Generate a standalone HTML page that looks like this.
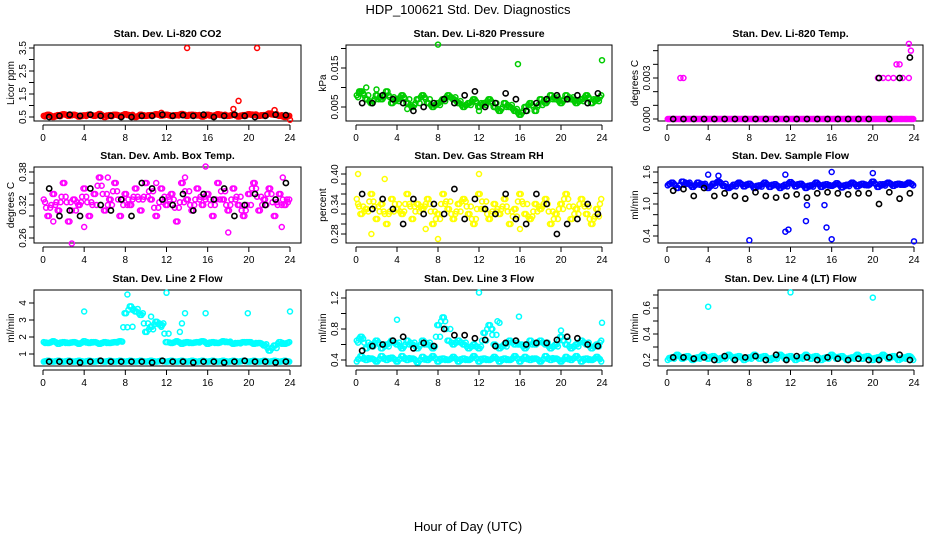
<!DOCTYPE html>
<html><head><meta charset="utf-8"><style>
body{margin:0;background:#fff;}
svg{display:block;font-family:"Liberation Sans",sans-serif;}
</style></head><body>
<svg id="c" width="936" height="540" xmlns="http://www.w3.org/2000/svg">
<text x="468" y="14" font-size="13" text-anchor="middle">HDP_100621  Std. Dev. Diagnostics</text>
<text x="468" y="531" font-size="13" text-anchor="middle">Hour of Day (UTC)</text>
</svg>
<script>
const hourTicks=[0,4,8,12,16,20,24];
// CO2
const co2Main=[0.55,0.6,0.5,0.58,0.62,0.55,0.6,0.52,0.57,0.6,0.55,0.63,0.5,0.58,0.6,0.55,0.62,0.57,0.5,0.6,0.55,0.58,0.62,0.56,0.6,0.55,0.58,0.63,0.55,0.6,0.57,0.52,0.6,0.55,0.62,0.58,0.55,0.6,0.52,0.58,0.62,0.6,0.55,0.58,0.65,0.6,0.55,0.5];
const co2Out=[[14,3.5],[20.8,3.5],[19,1.2],[18.5,0.85],[24,0.38],[22.5,0.8],[11.5,0.68]];
const co2Black=[0.5,0.55,0.6,0.55,0.6,0.55,0.55,0.5,0.5,0.55,0.55,0.6,0.55,0.58,0.55,0.6,0.5,0.55,0.6,0.55,0.5,0.55,0.6,0.58];
// Pressure
const presMain=[0.008,0.009,0.007,0.006,0.008,0.007,0.009,0.006,0.007,0.008,0.006,0.005,0.007,0.008,0.006,0.005,0.006,0.007,0.008,0.007,0.006,0.005,0.006,0.007,0.005,0.006,0.007,0.005,0.004,0.006,0.005,0.004,0.003,0.005,0.006,0.004,0.007,0.006,0.008,0.007,0.006,0.008,0.007,0.006,0.007,0.008,0.006,0.007];
const presOut=[[8,0.021],[15.8,0.016],[24,0.017],[0.3,0.009],[2,0.0095],[1,0.01],[5,0.0045],[12,0.004]];
const presBlack=[0.006,0.006,0.008,0.007,0.006,0.004,0.005,0.006,0.007,0.006,0.008,0.009,0.005,0.006,0.0085,0.007,0.004,0.006,0.007,0.008,0.007,0.008,0.006,0.0085];
// Temp
const tempMain=[0,0,0,0,0,0,0,0,0,0,0,0,0,0,0,0,0,0,0,0,0,0,0,0,0,0,0,0,0,0,0,0,0,0,0,0,0,0,0,0,0,0,0,0,0,0,0,0];
const tempOut=[[1.3,0.003],[1.6,0.003],[20.5,0.003],[21,0.003],[21.5,0.003],[22,0.003],[22.3,0.004],[22.6,0.004],[22.9,0.003],[23.5,0.003],[23.5,0.0055],[23.7,0.005]];
const tempBlack=[0,0,0,0,0,0,0,0,0,0,0,0,0,0,0,0,0,0,0,0,0.003,0,0.003,0.0045];
// Amb box temp
const ambMain=[0.33,0.3,0.34,0.31,0.36,0.29,0.33,0.32,0.35,0.3,0.34,0.37,0.31,0.33,0.36,0.3,0.34,0.32,0.35,0.31,0.36,0.33,0.3,0.35,0.32,0.34,0.29,0.36,0.33,0.31,0.35,0.32,0.34,0.3,0.36,0.33,0.31,0.35,0.32,0.3,0.34,0.36,0.31,0.33,0.35,0.3,0.34,0.32];
const ambOut=[[2.8,0.25],[6.3,0.37],[15.8,0.39],[13.8,0.37],[18,0.27],[23.2,0.28],[1,0.29],[4,0.28],[11,0.36],[23.3,0.37]];
const ambBlack=[0.35,0.3,0.31,0.3,0.35,0.32,0.31,0.33,0.3,0.36,0.35,0.33,0.32,0.34,0.31,0.34,0.33,0.35,0.3,0.32,0.34,0.32,0.33,0.36];
// RH
const rhMain=[0.35,0.32,0.33,0.36,0.31,0.34,0.3,0.35,0.33,0.32,0.36,0.31,0.34,0.33,0.35,0.3,0.32,0.36,0.33,0.31,0.34,0.35,0.32,0.3,0.36,0.33,0.31,0.34,0.32,0.35,0.3,0.33,0.36,0.32,0.31,0.34,0.33,0.35,0.3,0.32,0.34,0.36,0.31,0.33,0.35,0.32,0.3,0.33];
const rhOut=[[0.2,0.4],[2.8,0.39],[8,0.27],[12,0.4],[6.8,0.29],[16,0.29],[1.5,0.28]];
const rhBlack=[0.36,0.33,0.35,0.33,0.3,0.35,0.32,0.34,0.32,0.37,0.31,0.35,0.33,0.32,0.36,0.31,0.3,0.36,0.34,0.28,0.3,0.31,0.34,0.32];
// Sample flow
const sfMain=[1.35,1.4,1.3,1.42,1.38,1.32,1.4,1.36,1.3,1.38,1.42,1.34,1.3,1.36,1.4,1.33,1.38,1.3,1.35,1.4,1.32,1.37,1.3,1.36,1.41,1.33,1.38,1.3,1.35,1.4,1.32,1.37,1.34,1.39,1.31,1.36,1.4,1.33,1.38,1.35,1.42,1.32,1.37,1.4,1.34,1.38,1.36,1.4];
const sfOut=[[8,0.32],[11.5,0.48],[11.8,0.52],[13.5,0.68],[15.5,0.56],[16,0.34],[24,0.3],[13.6,0.98],[15.3,0.98],[16,1.6],[20,1.58],[4,1.55],[5,1.53],[11.5,1.55]];
const sfBlack=[1.25,1.28,1.15,1.3,1.15,1.2,1.15,1.1,1.22,1.15,1.12,1.15,1.18,1.12,1.2,1.22,1.2,1.18,1.2,1.2,1.0,1.22,1.1,1.2];
// Line 2
const l2Upper=[1.7,1.65,1.75,1.6,1.7,1.65,1.7,1.6,1.75,1.65,1.7,1.6,1.7,1.65,1.7,1.75,3.4,3.8,3.5,3.3,2.3,2.6,2.9,2.7,1.7,1.65,1.75,1.6,1.7,1.65,1.7,1.75,1.6,1.7,1.65,1.75,1.7,1.6,1.65,1.7,1.7,1.6,1.65,1.5,1.2,1.5,1.7,1.6];
const l2Lower=[0.55,0.6,0.55,0.6,0.55,0.6,0.55,0.6,0.55,0.6,0.55,0.6,0.55,0.6,0.55,0.6,0.55,0.6,0.55,0.6,0.55,0.6,0.55,0.6,0.55,0.6,0.55,0.6,0.55,0.6,0.55,0.6,0.55,0.6,0.55,0.6,0.55,0.6,0.55,0.6,0.55,0.6,0.55,0.6,0.55,0.6,0.55,0.6];
const l2Out=[[4,3.5],[8.2,4.5],[12,4.6],[13.8,3.4],[15.8,3.4],[19.9,3.4],[24,3.5],[13.5,2.8],[13.3,2.3],[11.5,2.6],[8.7,2.6],[10.5,3.2]];
const l2Black=[0.55,0.55,0.55,0.5,0.55,0.6,0.55,0.55,0.55,0.55,0.5,0.6,0.55,0.55,0.5,0.55,0.55,0.5,0.55,0.6,0.55,0.55,0.5,0.55];
// Line 3
const l3Upper=[0.65,0.7,0.55,0.6,0.65,0.55,0.6,0.65,0.6,0.55,0.65,0.6,0.55,0.65,0.6,0.55,0.85,0.95,0.65,0.6,0.65,0.6,0.55,0.6,0.55,0.75,0.85,0.6,0.55,0.6,0.65,0.6,0.6,0.55,0.65,0.6,0.65,0.6,0.55,0.6,0.7,0.6,0.55,0.6,0.65,0.6,0.55,0.6];
const l3Lower=[0.38,0.45,0.4,0.42,0.38,0.45,0.4,0.43,0.38,0.45,0.4,0.42,0.37,0.44,0.4,0.45,0.38,0.42,0.4,0.44,0.38,0.42,0.4,0.45,0.38,0.42,0.4,0.44,0.38,0.42,0.4,0.45,0.38,0.44,0.4,0.42,0.38,0.45,0.4,0.42,0.38,0.44,0.4,0.45,0.38,0.42,0.4,0.44];
const l3Out=[[12,1.27],[15.9,0.96],[24,0.88],[20,0.78],[4,0.92],[13.8,0.9],[14,0.88],[13.3,0.8]];
const l3Black=[0.52,0.58,0.6,0.65,0.7,0.55,0.62,0.58,0.8,0.72,0.72,0.68,0.66,0.58,0.62,0.65,0.6,0.62,0.62,0.66,0.7,0.68,0.6,0.58];
// Line 4
const l4Main=[0.2,0.22,0.24,0.21,0.23,0.2,0.22,0.24,0.21,0.23,0.2,0.22,0.24,0.21,0.23,0.2,0.22,0.24,0.21,0.23,0.2,0.22,0.24,0.21,0.23,0.2,0.22,0.24,0.21,0.23,0.2,0.22,0.24,0.21,0.23,0.2,0.22,0.24,0.21,0.23,0.2,0.22,0.24,0.21,0.23,0.2,0.22,0.23];
const l4Out=[[4,0.61],[12,0.72],[20,0.68]];
const l4Black=[0.22,0.22,0.21,0.22,0.2,0.23,0.2,0.22,0.23,0.2,0.24,0.2,0.23,0.22,0.2,0.22,0.21,0.2,0.21,0.2,0.2,0.22,0.24,0.2];

const panels=[
 {name:'co2',title:'Stan. Dev. Li-820 CO2',ylab:'Licor ppm',col:0,row:0,col1:'#ff0000',map:[3.5,48,0.5,117],ticks:[0.5,1,1.5,2,2.5,3,3.5],labels:['0.5','','1.5','','2.5','','3.5'],main:[co2Main],out:co2Out,black:co2Black},
 {name:'pressure',title:'Stan. Dev. Li-820 Pressure',ylab:'kPa',col:1,row:0,col1:'#00cc00',map:[0.02,48.5,0.005,107],ticks:[0.005,0.01,0.015,0.02],labels:['0.005','','0.015',''],main:[presMain],out:presOut,black:presBlack},
 {name:'temp',title:'Stan. Dev. Li-820 Temp.',ylab:'degrees C',col:2,row:0,col1:'#ff00ff',map:[0.003,78,0,119],ticks:[0,0.001,0.002,0.003,0.004,0.005],labels:['0.000','','','0.003','',''],main:[tempMain],out:tempOut,black:tempBlack},
 {name:'amb-temp',title:'Stan. Dev. Amb. Box Temp.',ylab:'degrees C',col:0,row:1,col1:'#ff00ff',map:[0.38,172,0.26,238],ticks:[0.26,0.28,0.3,0.32,0.34,0.36,0.38],labels:['0.26','','','0.32','','','0.38'],main:[ambMain],out:ambOut,black:ambBlack},
 {name:'rh',title:'Stan. Dev. Gas Stream RH',ylab:'percent',col:1,row:1,col1:'#ffff00',map:[0.4,174,0.28,234],ticks:[0.28,0.3,0.32,0.34,0.36,0.38,0.4],labels:['0.28','','','0.34','','','0.40'],main:[rhMain],out:rhOut,black:rhBlack},
 {name:'sample-flow',title:'Stan. Dev. Sample Flow',ylab:'ml/min',col:2,row:1,col1:'#0000ff',map:[1.6,172,0.4,236],ticks:[0.4,0.6,0.8,1.0,1.2,1.4,1.6],labels:['0.4','','','1.0','','','1.6'],main:[sfMain],out:sfOut,black:sfBlack},
 {name:'line2-flow',title:'Stan. Dev. Line 2 Flow',ylab:'ml/min',col:0,row:2,col1:'#00ffff',map:[4,303,1,354],ticks:[1,2,3,4],labels:['1','2','3','4'],main:[l2Upper,l2Lower],out:l2Out,black:l2Black},
 {name:'line3-flow',title:'Stan. Dev. Line 3 Flow',ylab:'ml/min',col:1,row:2,col1:'#00ffff',map:[1.2,298,0.4,360],ticks:[0.4,0.6,0.8,1.0,1.2],labels:['0.4','','0.8','','1.2'],main:[l3Upper,l3Lower],out:l3Out,black:l3Black},
 {name:'line4-flow',title:'Stan. Dev. Line 4 (LT) Flow',ylab:'ml/min',col:2,row:2,col1:'#00ffff',map:[0.6,308,0.2,360],ticks:[0.2,0.3,0.4,0.5,0.6,0.7],labels:['0.2','','0.4','','0.6',''],main:[l4Main],out:l4Out,black:l4Black}
];
const colBox=[[34,301,43,290],[346,612,356,602],[658,923,667,914]];
const rowBox=[[45,121],[167,243],[290,366]];
const NS='http://www.w3.org/2000/svg';
const svg=document.getElementById('c');
function mk(tag,attrs,parent){const e=document.createElementNS(NS,tag);for(const k in attrs)e.setAttribute(k,attrs[k]);(parent||svg).appendChild(e);return e;}
panels.forEach(p=>{
 const [bx0,bx1,h0,h24]=colBox[p.col];const [by0,by1]=rowBox[p.row];
 const xs=h=>h0+(h24-h0)*h/24;
 const ys=v=>p.map[1]+(v-p.map[0])*(p.map[3]-p.map[1])/(p.map[2]-p.map[0]);
 const g=mk('g',{});
 
 
 const t=mk('text',{x:(bx0+bx1)/2,y:by0-8,'font-size':10.5,'font-weight':'bold','text-anchor':'middle'},g);t.textContent=p.title;
 
 
 const box=mk('rect',{x:bx0,y:by0,width:bx1-bx0,height:by1-by0,fill:'none',stroke:'#000','stroke-width':1},g);
 
 
 const xa=mk('g',{},g);
 
 
 mk('line',{x1:xs(0),x2:xs(24),y1:by1+4,y2:by1+4,stroke:'#000'},xa);
 hourTicks.forEach(h=>{mk('line',{x1:xs(h),x2:xs(h),y1:by1+4,y2:by1+9,stroke:'#000'},xa);
  const l=mk('text',{x:xs(h),y:by1+20,'font-size':10,'text-anchor':'middle'},xa);l.textContent=h;});
 const ya=mk('g',{},g);
 
 
 const ax=bx0;
 mk('line',{x1:ax,x2:ax,y1:ys(p.ticks[0]),y2:ys(p.ticks[p.ticks.length-1]),stroke:'#000'},ya);
 p.ticks.forEach((v,i)=>{const y=ys(v);mk('line',{x1:ax-5,x2:ax,y1:y,y2:y,stroke:'#000'},ya);
  if(p.labels[i]){const l=mk('text',{x:ax-8,y:y,'font-size':10,'text-anchor':'middle',transform:`rotate(-90 ${ax-8} ${y})`},ya);l.textContent=p.labels[i];}});
 const yl=mk('text',{x:ax-20,y:(by0+by1)/2,'font-size':10,'text-anchor':'middle',transform:`rotate(-90 ${ax-20} ${(by0+by1)/2})`},g);yl.textContent=p.ylab;
 
 
 const sg=mk('g',{fill:'none',stroke:p.col1,'stroke-width':1.5},g);
 
 
 p.main.forEach(arr=>arr.forEach((v,i)=>{
  const nx=arr[(i+1)%arr.length], pv=arr[(i+arr.length-1)%arr.length];
  mk('circle',{cx:xs(24*(i+0.15)/arr.length),cy:ys(v),r:2.5},sg);
  mk('circle',{cx:xs(24*(i+0.4)/arr.length),cy:ys((v+pv)/2),r:2.5},sg);
  mk('circle',{cx:xs(24*(i+0.6)/arr.length),cy:ys((v+nx)/2),r:2.5},sg);
  mk('circle',{cx:xs(24*(i+0.85)/arr.length),cy:ys(nx),r:2.5},sg);}));
 p.out.forEach(o=>mk('circle',{cx:xs(o[0]),cy:ys(o[1]),r:2.5},sg));
 const bg=mk('g',{fill:'none',stroke:'#000','stroke-width':1.6},g);
 
 
 p.black.forEach((v,i)=>mk('circle',{cx:xs(i+0.6),cy:ys(v),r:2.6},bg));
});
</script>
</body></html>
